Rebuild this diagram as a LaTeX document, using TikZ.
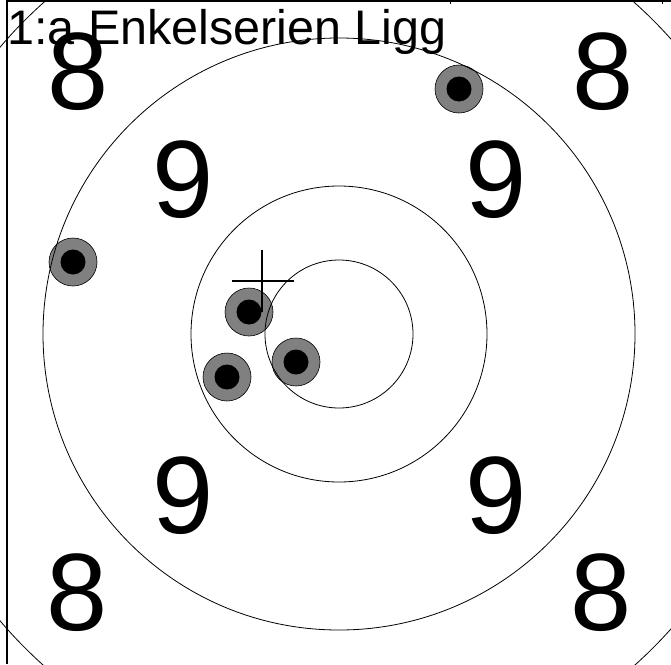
\documentclass[tikz,border=0pt]{standalone}
\usepackage{fontspec}
\setmainfont{Liberation Sans}
\begin{document}
\begin{tikzpicture}[x=1pt,y=-1pt,
  ring/.style={draw=black,line width=0.8pt},
  shotouter/.style={circle,draw=black,line width=0.6pt,fill=gray,minimum size=48pt,inner sep=0pt},
  shotinner/.style={circle,fill=black,minimum size=25pt,inner sep=0pt},
  score/.style={inner sep=0pt,font=\fontsize{110}{110}\selectfont},
  frameline/.style={draw=black,line width=1.2pt},
  crossline/.style={draw=black,line width=2.4pt}]
\useasboundingbox (0,0) rectangle (671,664);
\coordinate (c) at (339,334);
% shots
\foreach \n/\x/\y in {s1/459/89, s2/73/262, s3/249/312, s4/227/377, s5/296/362}{
  \node[shotouter] (\n) at (\x,\y) {};
  \node[shotinner] (\n i) at (\n) {};
}
% rings
\draw[ring] (c) circle[radius=74pt];
\draw[ring] (c) circle[radius=148pt];
\draw[ring] (c) circle[radius=296pt];
\draw[ring] (c) circle[radius=444pt];
% frame
\coordinate (ftl) at (7,1);
\coordinate (ftr) at (671,1);
\coordinate (fbl) at (7,664);
\draw[frameline] (fbl) -- (ftl) -- (ftr);
\coordinate (t1) at (450,1); \coordinate (t1b) at (450,4);
\coordinate (t2) at (662,1); \coordinate (t2b) at (662,4);
\draw[line width=0.8pt] (t1) -- (t1b);
\draw[line width=0.8pt] (t2) -- (t2b);
% scores
\node[score] (e1) at (78,72) {8};
\node[score] (e2) at (603,72) {8};
\node[score] (e3) at (77,593) {8};
\node[score] (e4) at (601,593) {8};
\node[score] (n1) at (183,180) {9};
\node[score] (n2) at (496,180) {9};
\node[score] (n3) at (183,496) {9};
\node[score] (n4) at (496,496) {9};
% title
\node[anchor=base west,inner sep=0pt,font=\fontsize{48.5}{48.5}\selectfont] (title) at (7,44) {1:a Enkelserien Ligg};
% cross
\coordinate (xl) at (232,281); \coordinate (xr) at (294,281);
\coordinate (xt) at (262,250); \coordinate (xb) at (262,312);
\draw[crossline] (xl) -- (xr);
\draw[crossline] (xt) -- (xb);
\end{tikzpicture}
\end{document}
